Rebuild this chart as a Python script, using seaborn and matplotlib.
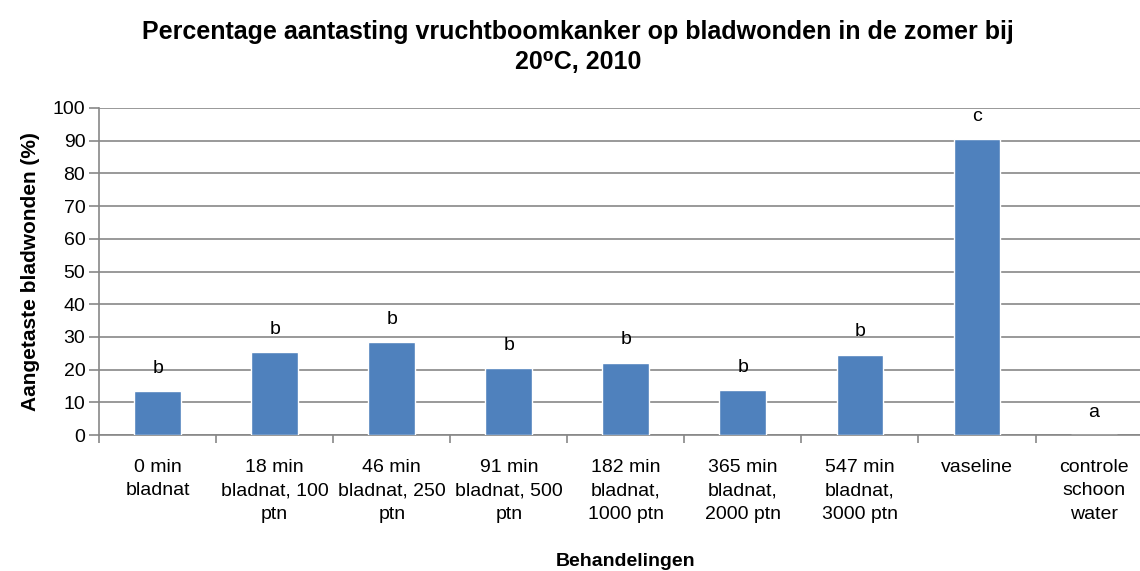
import numpy as np
import pandas as pd
from matplotlib import pyplot as plt

import seaborn as sns

categories = [
    "0 min\nbladnat",
    "18 min\nbladnat, 100\nptn",
    "46 min\nbladnat, 250\nptn",
    "91 min\nbladnat, 500\nptn",
    "182 min\nbladnat,\n1000 ptn",
    "365 min\nbladnat,\n2000 ptn",
    "547 min\nbladnat,\n3000 ptn",
    "vaseline",
    "controle\nschoon\nwater",
]
values = [13.5, 25.3, 28.4, 20.4, 22.1, 13.7, 24.6, 90.4, 0.0]
letters = ["b", "b", "b", "b", "b", "b", "b", "c", "a"]
y_ticks = list(range(0, 101, 10))

sns.set_style("white")
plt.rcParams['font.family'] = ['Liberation Sans Narrow', 'Liberation Sans', 'DejaVu Sans']
plt.rcParams['text.color'] = 'black'
plt.rcParams['axes.labelcolor'] = 'black'

df = pd.DataFrame({"behandeling": categories, "aantasting": values})

fig = plt.figure(figsize=(11.4, 5.71), dpi=100)
# the plot area runs a little past the right edge of the picture
ax = fig.add_axes([0.087, 0.238, 0.924, 0.573])

sns.barplot(data=df, x="behandeling", y="aantasting", color="#4F81BD",
            saturation=1, width=0.4, ax=ax, zorder=3)

grid_color = "#878787"
ax.set_ylim(0, 100)
ax.set_xlim(-0.5, len(categories) - 0.5)
ax.set_yticks(y_ticks)
ax.set_yticklabels([str(t) for t in y_ticks], fontsize=14)
ax.yaxis.grid(True, color=grid_color, linewidth=1.2, zorder=0)
ax.set_axisbelow(True)

# tick marks between the categories, labels at the centre
ax.set_xticks(np.arange(len(categories) + 1) - 0.5)
ax.set_xticklabels([])
ax.set_xticks(np.arange(len(categories)), minor=True)
ax.set_xticklabels(categories, minor=True, fontsize=14, linespacing=1.5,
                   va="top")
ax.tick_params(axis="x", which="minor", length=0, pad=17, labelcolor="black")
ax.tick_params(axis="x", which="major", length=6, width=1.2, color=grid_color,
               direction="out", bottom=True)
ax.tick_params(axis="y", length=7, width=1.2, color=grid_color,
               direction="out", left=True, pad=3, labelcolor="black")

for side in ["top", "right"]:
    ax.spines[side].set_visible(False)
for side in ["left", "bottom"]:
    ax.spines[side].set_color(grid_color)
    ax.spines[side].set_linewidth(1.2)

for i, (v, letter) in enumerate(zip(values, letters)):
    ax.text(i, v + 7, letter, ha="center", va="center", fontsize=14)

ax.set_xlabel("Behandelingen", fontsize=14, fontweight="bold", labelpad=22)
ax.set_ylabel("Aangetaste bladwonden (%)", fontsize=15, fontweight="bold",
              labelpad=9)
fig.suptitle("Percentage aantasting vruchtboomkanker op bladwonden in de zomer bij\n"
             "20\u2070C, 2010", fontsize=18, fontweight="bold", y=0.965,
             x=0.507, linespacing=1.3)

plt.savefig("out.png", dpi=100)
